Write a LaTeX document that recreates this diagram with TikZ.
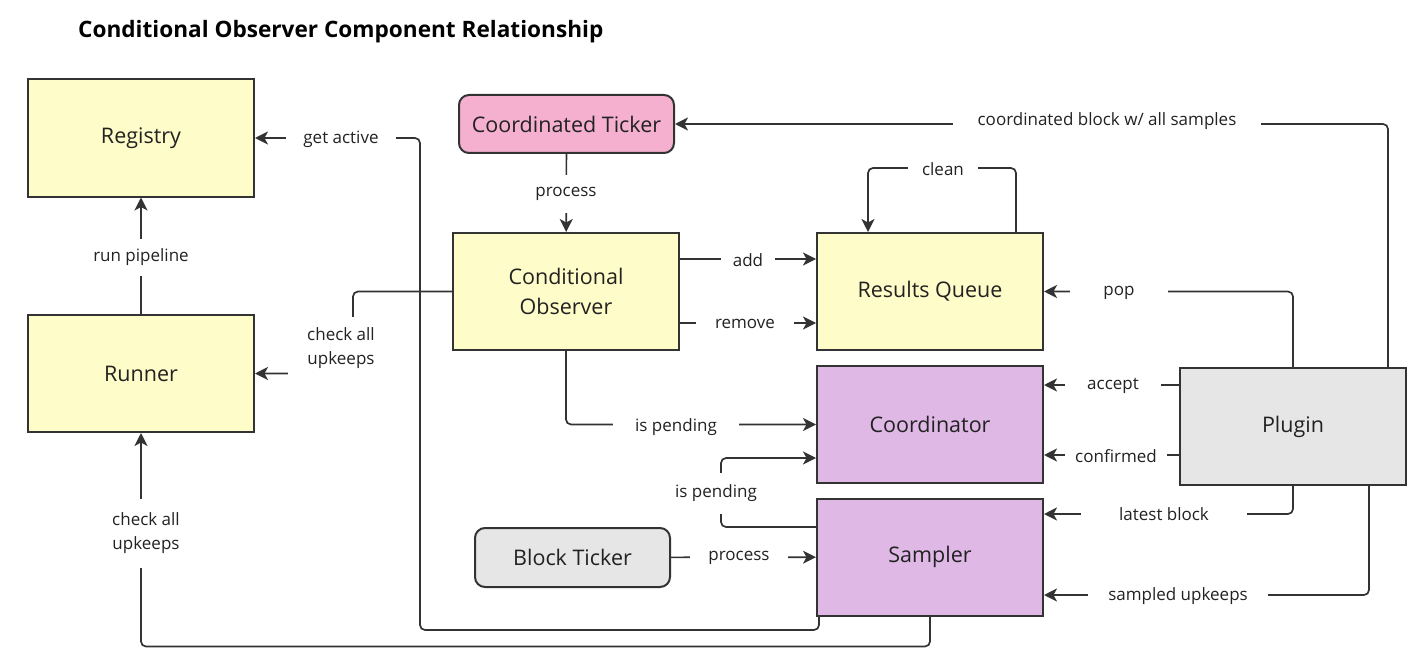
\documentclass[tikz,border=0pt]{standalone}
\usepackage{fontspec}
\setmainfont{Open Sans}
\usetikzlibrary{arrows.meta}
\definecolor{linec}{HTML}{333333}
\definecolor{textc}{HTML}{222222}
\definecolor{yel}{HTML}{FEFCC8}
\definecolor{pinkc}{HTML}{F5B0CF}
\definecolor{purp}{HTML}{DFB8E6}
\definecolor{grayc}{HTML}{E6E6E6}
\begin{document}
\begin{tikzpicture}[x=1pt,y=-1pt,
  box/.style={draw=linec, line width=2pt, minimum width=226pt, minimum height=117pt,
    font=\fontsize{21.5}{30}\selectfont, align=center, text=textc, inner sep=0pt},
  rbox/.style={box, rounded corners=10pt, minimum height=58pt},
  conn/.style={draw=linec, line width=1.7pt, rounded corners=5pt,
    -{Stealth[length=13pt,width=13pt,inset=3.5pt]}},
  lbl/.style={fill=white, font=\fontsize{17}{24}\selectfont, text=textc,
    inner xsep=17pt, inner ysep=10pt, align=center}]
\useasboundingbox (0,0) rectangle (1427,666);
\fill[white] (0,0) rectangle (1427,666);

\node[anchor=west, inner sep=0pt, font=\fontsize{22.6}{26}\selectfont\bfseries, text=black] (title) at (78,32) {Conditional Observer Component Relationship};

\node[box, fill=yel] (registry) at (141,138) {Registry};
\node[box, fill=yel] (runner) at (141,373.5) {Runner};
\node[rbox, fill=pinkc, minimum width=215pt] (ct) at (566.5,124) {Coordinated Ticker};
\node[box, fill=yel] (co) at (566,291.5) {Conditional\\Observer};
\node[box, fill=yel] (rq) at (930,291.5) {Results Queue};
\node[box, fill=purp] (coord) at (930,424.5) {Coordinator};
\node[box, fill=purp] (sampler) at (930,557) {Sampler};
\node[box, fill=grayc] (plugin) at (1293,426.5) {Plugin};
\node[rbox, fill=grayc, minimum width=195pt, minimum height=59pt] (bt) at (572.5,557.5) {Block Ticker};

\coordinate (yadd) at (0,259);
\coordinate (yrem) at (0,323);
\coordinate (yacc) at (0,385);
\coordinate (yconf) at (0,455);
\coordinate (ylat) at (0,514);
\coordinate (ysamp) at (0,595);
\coordinate (ysp) at (0,527);
\coordinate (yspb) at (0,458);

% Runner -> Registry
\draw[conn] (runner) -- (registry);
\node[lbl] (l1) at (141,257) {run pipeline};

% Sampler -> Registry (get active)
\draw[conn] ([xshift=3pt]sampler.south west) |- (420,630) |- (registry.east);
\node[lbl] (l2) at (341,139) {get active};

% Sampler -> Runner (check all upkeeps)
\draw[conn] (sampler.south) -- ++(0,30) -| (runner.south);
\node[lbl, minimum height=69pt, minimum width=100pt] (l3) at (146,533) {check all\\upkeeps};

% CO -> Runner (check all upkeeps)
\draw[conn] (co.west) -| (353,373.5) -- (runner.east);
\node[lbl, minimum height=62pt, minimum width=106pt] (l4) at (341,348) {check all\\upkeeps};

% CT -> CO
\draw[conn] (ct) -- (co);
\node[lbl, inner ysep=12pt] (l5) at (566,194) {process};

% CO -> RQ
\draw[conn] (co.east |- yadd) -- (rq.west |- yadd);
\node[lbl, inner xsep=12pt] (l6) at (748,260) {add};
\draw[conn] (co.east |- yrem) -- (rq.west |- yrem);
\node[lbl, inner xsep=19pt] (l7) at (745,324) {remove};

% RQ clean loop
\draw[conn] ([xshift=-28pt]rq.north east) -- ++(0,-64) -| ([xshift=52pt]rq.north west);
\node[lbl, inner xsep=14pt] (l8) at (943,169) {clean};

% Plugin -> RQ pop
\draw[conn] (plugin.north) |- (rq.east);
\node[lbl, minimum width=98pt] (l9) at (1119,293) {pop};

% Plugin -> CT
\draw[conn] ([xshift=-19pt]plugin.north east) |- (ct.east);
\node[lbl, inner xsep=25pt] (l10) at (1107,121) {coordinated block w/ all samples};

% Plugin -> Coordinator
\draw[conn] (plugin.west |- yacc) -- (coord.east |- yacc);
\node[lbl, inner xsep=22pt] (l11) at (1113,386) {accept};
\draw[conn] (plugin.west |- yconf) -- (coord.east |- yconf);
\node[lbl, inner xsep=10pt] (l12) at (1116,456) {confirmed};

% Plugin -> Sampler
\draw[conn] (plugin.south) |- (sampler.east |- ylat);
\node[lbl, inner xsep=38pt] (l13) at (1164,514) {latest block};
\draw[conn] ([xshift=-38pt]plugin.south east) |- (sampler.east |- ysamp);
\node[lbl, inner xsep=20pt] (l14) at (1178,596) {sampled upkeeps};

% CO -> Coordinator is pending
\draw[conn] (co.south) |- (coord.west);
\node[lbl, inner xsep=22pt] (l15) at (676,427) {is pending};

% Sampler -> Coordinator is pending
\draw[conn] (sampler.west |- ysp) -- ++(-95,0) |- (coord.west |- yspb);
\node[lbl, inner xsep=10pt, inner ysep=12pt] (l16) at (716,493) {is pending};

% Block ticker -> Sampler
\draw[conn] (bt) -- (sampler);
\node[lbl, inner xsep=18pt] (l17) at (739,558) {process};

\end{tikzpicture}
\end{document}
